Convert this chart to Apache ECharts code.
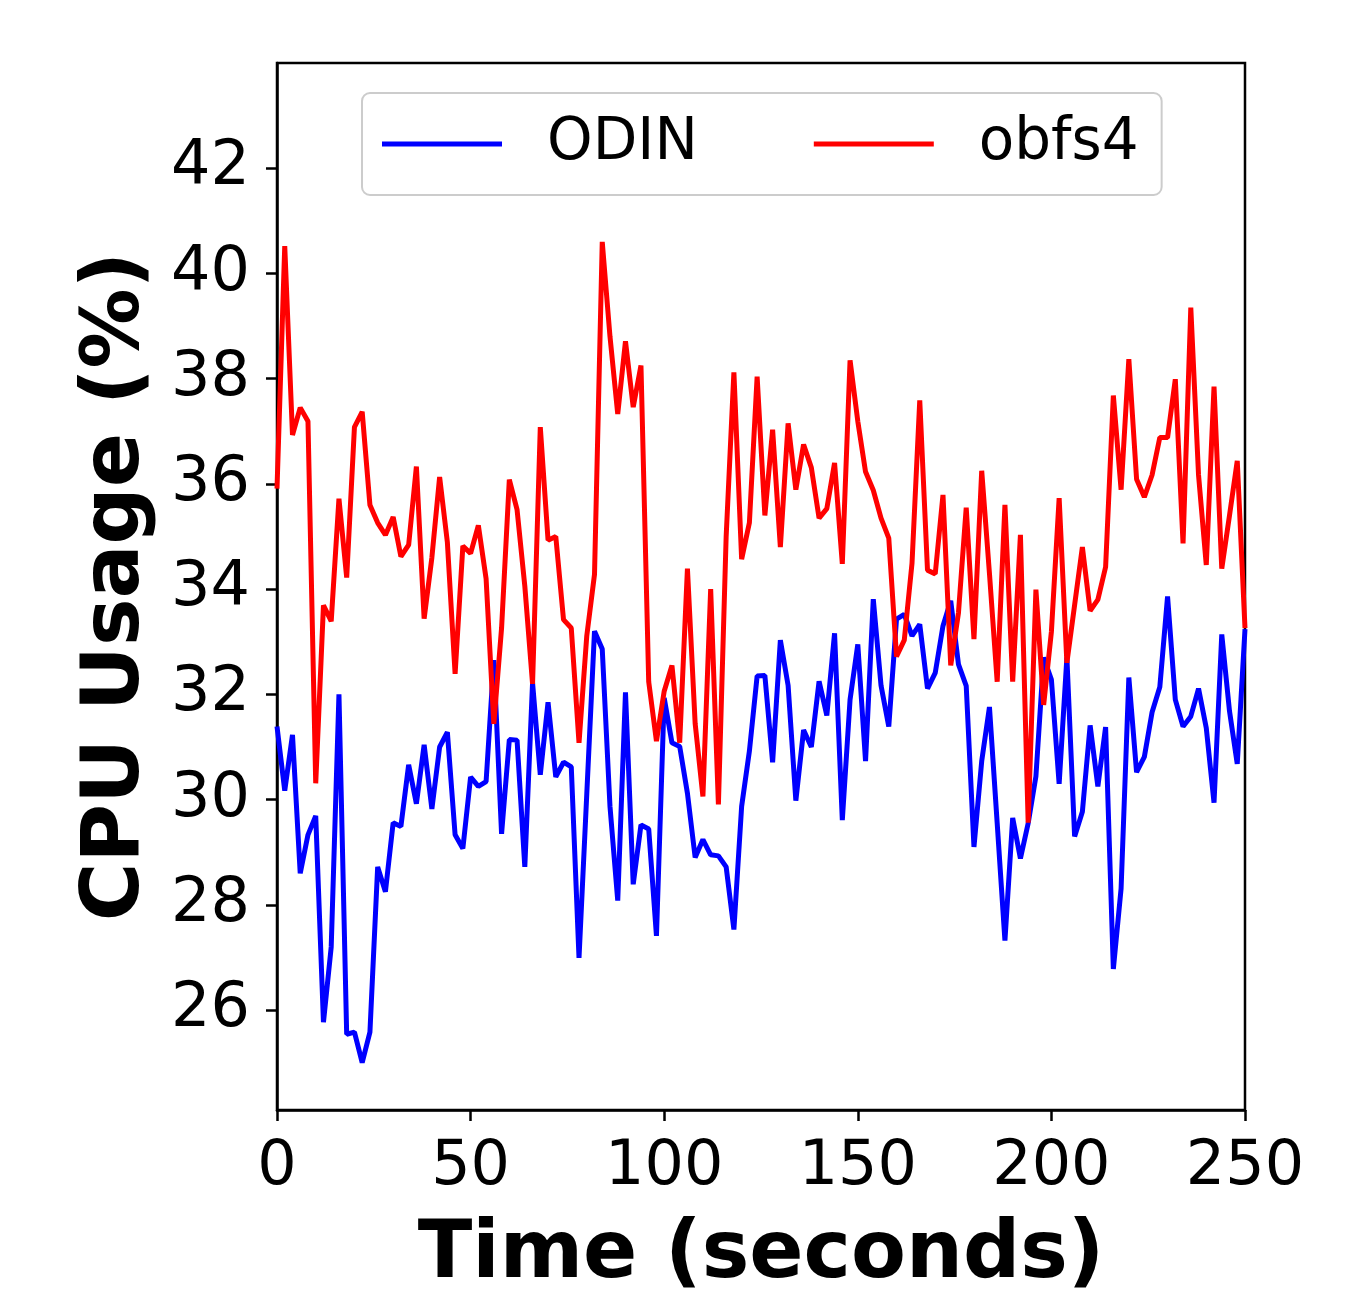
<!DOCTYPE html>
<html><head><meta charset="utf-8">
<script src="https://cdn.jsdelivr.net/npm/echarts@6/dist/echarts.min.js"></script>
<style>html,body{margin:0;padding:0;background:#fff}#c{width:1363px;height:1292px}</style>
</head><body><div id="c"></div>
<script>
const times = [0,2,4,6,8,10,12,14,16,18,20,22,24,26,28,30,32,34,36,38,40,42,44,46,48,50,52,54,56,58,60,62,64,66,68,70,72,74,76,78,80,82,84,86,88,90,92,94,96,98,100,102,104,106,108,110,112,114,116,118,120,122,124,126,128,130,132,134,136,138,140,142,144,146,148,150,152,154,156,158,160,162,164,166,168,170,172,174,176,178,180,182,184,186,188,190,192,194,196,198,200,202,204,206,208,210,212,214,216,218,220,222,224,226,228,230,232,234,236,238,240,242,244,246,248,250];
const odin = [31.39,30.17,31.23,28.6,29.33,29.69,25.77,27.2,32.0,25.54,25.58,25.0,25.58,28.72,28.25,29.56,29.49,30.66,29.92,31.04,29.82,31.0,31.28,29.33,29.07,30.43,30.25,30.34,32.65,29.35,31.14,31.13,28.72,32.22,30.47,31.85,30.43,30.71,30.62,26.99,30.1,33.2,32.86,29.87,28.08,32.04,28.39,29.52,29.44,27.41,31.93,31.08,31.01,30.12,28.9,29.24,28.95,28.93,28.72,27.53,29.87,30.92,32.35,32.36,30.71,33.03,32.17,29.98,31.32,31.0,32.25,31.6,33.16,29.61,31.9,32.95,30.73,33.81,32.17,31.39,33.43,33.52,33.11,33.33,32.11,32.41,33.3,33.78,32.57,32.16,29.1,30.73,31.76,29.55,27.32,29.65,28.88,29.55,30.44,32.7,32.28,30.3,32.7,29.3,29.77,31.41,30.25,31.38,26.78,28.31,32.32,30.52,30.81,31.66,32.14,33.86,31.9,31.39,31.58,32.11,31.36,29.94,33.14,31.68,30.68,33.24];
const obfs4 = [35.91,40.52,36.93,37.45,37.19,30.31,33.69,33.39,35.72,34.22,37.08,37.37,35.6,35.26,35.03,35.37,34.62,34.84,36.33,33.44,34.6,36.13,34.89,32.39,34.82,34.68,35.21,34.2,31.44,33.26,36.08,35.51,34.06,32.2,37.08,34.93,35.0,33.42,33.26,31.08,33.11,34.28,40.6,38.8,37.33,38.71,37.46,38.25,32.24,31.11,32.06,32.55,31.08,34.39,31.44,30.06,34.0,29.91,35.0,38.12,34.57,35.26,38.04,35.4,37.03,34.8,37.15,35.89,36.75,36.31,35.35,35.53,36.4,34.48,38.35,37.19,36.23,35.88,35.35,34.97,32.72,33.03,34.49,37.59,34.36,34.29,35.79,32.55,33.55,35.55,33.05,36.25,34.3,32.24,35.6,32.24,35.03,29.56,33.99,31.8,33.19,35.73,32.6,33.7,34.8,33.59,33.8,34.42,37.68,35.89,38.37,36.09,35.75,36.17,36.88,36.88,37.99,34.87,39.35,36.17,34.46,37.85,34.39,35.4,36.44,33.26];
const yTicks = [26,28,30,32,34,36,38,40,42];
const xTicks = [0,50,100,150,200,250];
const seriesNames = ['ODIN','obfs4'];

const FONT = 'DejaVu Sans';
const chart = echarts.init(document.getElementById('c'), null, {renderer:'canvas'});
chart.setOption({
  animation:false,
  backgroundColor:'#ffffff',
  grid:{left:277, right:118, top:63, bottom:182, outerBoundsMode:'none', containLabel:false,
        show:true, borderColor:'#000', borderWidth:2.5, backgroundColor:'transparent'},
  legend:{
    left:362, top:93,
    data:seriesNames,
    icon:'rect', itemWidth:120, itemHeight:5, itemGap:116,
    padding:[22,23,22,20],
    borderColor:'#cccccc', borderWidth:2, borderRadius:8,
    backgroundColor:'rgba(255,255,255,0.8)',
    textStyle:{fontSize:58, color:'#000', fontFamily:FONT, padding:[0,0,0,40]}
  },
  xAxis:{
    type:'value', min:0, max:250, interval:50,
    axisLine:{show:true, onZero:false, lineStyle:{color:'#000', width:2.5}},
    axisTick:{show:true, length:11, lineStyle:{color:'#000', width:2.5}, customValues:xTicks},
    axisLabel:{fontSize:62, color:'#000', fontFamily:FONT, margin:27, customValues:xTicks},
    splitLine:{show:false},
    name:'Time (seconds)', nameLocation:'middle', nameGap:106,
    nameTextStyle:{fontSize:80, fontWeight:'bold', color:'#000', fontFamily:FONT}
  },
  yAxis:{
    type:'value', min:24.1, max:44.0,
    axisLine:{show:true, onZero:false, lineStyle:{color:'#000', width:2.5}},
    axisTick:{show:true, length:11, lineStyle:{color:'#000', width:2.5}, customValues:yTicks},
    axisLabel:{fontSize:62, color:'#000', fontFamily:FONT, margin:27, customValues:yTicks},
    splitLine:{show:false},
    name:'CPU Usage (%)', nameLocation:'middle', nameGap:120,
    nameTextStyle:{fontSize:80, fontWeight:'bold', color:'#000', fontFamily:FONT}
  },
  series:[
    {name:seriesNames[0], type:'line', showSymbol:false, symbol:'none', color:'#0000ff',
     lineStyle:{color:'#0000ff', width:5}, data:times.map((t,i)=>[t, odin[i]])},
    {name:seriesNames[1], type:'line', showSymbol:false, symbol:'none', color:'#ff0000',
     lineStyle:{color:'#ff0000', width:5}, data:times.map((t,i)=>[t, obfs4[i]])}
  ]
});
</script></body></html>
